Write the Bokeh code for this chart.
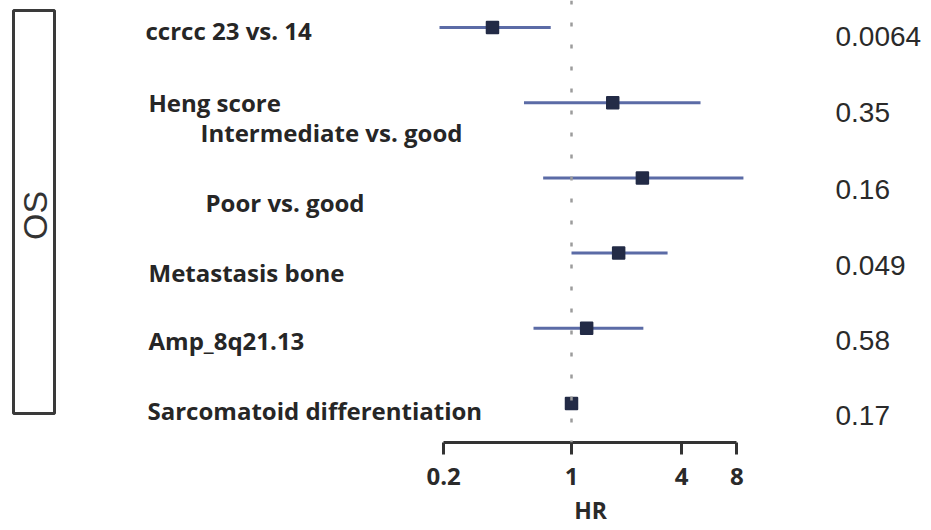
import math

from bokeh.core.properties import value
from bokeh.embed import file_html
from bokeh.models import FixedTicker, Range1d, Span, Title
from bokeh.plotting import figure
from bokeh.resources import INLINE

# ---- data -------------------------------------------------------------
row_labels = [
    "ccrcc 23 vs. 14",
    "Intermediate vs. good",
    "Poor vs. good",
    "Metastasis bone",
    "Amp_8q21.13",
    "Sarcomatoid differentiation",
]
group_header = "Heng score"
hazard_ratio = [0.37, 1.68, 2.44, 1.81, 1.21, 1.00]
ci_low = [0.19, 0.55, 0.70, 1.00, 0.62, 0.99]
ci_high = [0.77, 5.07, 8.70, 3.35, 2.47, 1.02]
p_values = ["0.0064", "0.35", "0.16", "0.049", "0.58", "0.17"]
tick_values = [0.2, 1, 4, 8]
tick_labels = ["0.2", "1", "4", "8"]
panel_title = "OS"
axis_title = "HR"

# ---- layout constants (screen pixels) ---------------------------------
W, H = 931, 530
AXIS_PANEL = 88                 # space under the frame for the HR axis
FRAME_H = H - AXIS_PANEL
X_ONE = 571                     # screen x of HR = 1
PX_DECADE = 183                 # pixels per factor of ten
Y_FIRST = 27                    # screen y of the first row
ROW_STEP = 75.2                 # pixels between rows
HR_TEXT_W = 32                  # approximate width of the axis caption


def x_at(px):
    """Data x (HR) for a screen column."""
    return 10 ** ((px - X_ONE) / PX_DECADE)


def px_of(hr):
    """Screen column for a data x (HR)."""
    return X_ONE + PX_DECADE * math.log10(hr)


def y_at(px):
    """Row coordinate for a screen y (rows grow downward)."""
    return (px - Y_FIRST) / ROW_STEP


rows = list(range(len(row_labels)))

p = figure(
    width=W, height=H,
    x_axis_type="log",
    x_range=Range1d(x_at(0), x_at(W)),
    y_range=Range1d(y_at(FRAME_H), y_at(0)),
    y_axis_location=None,
    toolbar_location=None,
    output_backend="svg",
    min_border_left=0, min_border_right=0, min_border_top=0,
    min_border_bottom=AXIS_PANEL,
)
p.outline_line_color = None
p.xgrid.visible = False
p.ygrid.visible = False
p.background_fill_color = "white"
p.border_fill_color = "white"

# dotted reference line at HR = 1
p.add_layout(Span(location=1, dimension="height", line_color="#9c9c9c",
                  line_width=2.5, line_dash="4 18"))

# confidence intervals and point estimates
p.segment(x0=ci_low, y0=rows, x1=ci_high, y1=rows,
          line_color="#5b6ba6", line_width=3)
p.scatter(x=hazard_ratio, y=rows, marker="square", size=12,
          fill_color="#232b46", line_color="#232b46", line_width=1.5)

# variable labels (main items left, Heng sub-levels indented)
label_x = [x_at(145), x_at(200), x_at(205), x_at(148), x_at(148), x_at(147)]
label_y = [y_at(30), y_at(132), y_at(202), y_at(272), y_at(340), y_at(410)]
label_style = dict(text_font=value("Open Sans"), text_font_style="bold",
                   text_font_size="24px", text_color="#262626",
                   text_align="left", text_baseline="middle")
p.text(x=label_x, y=label_y, text=row_labels, **label_style)
p.text(x=[x_at(148)], y=[y_at(102)], text=[group_header], **label_style)

# p-values column
pv_y = [y_at(36), y_at(112), y_at(189), y_at(265), y_at(340), y_at(415)]
p.text(x=[x_at(835)] * len(p_values), y=pv_y, text=p_values,
       text_font=value("Liberation Sans"), text_font_size="28px",
       text_color="#2a2a2a", text_align="left", text_baseline="middle")

# framed panel title on the left
p.quad(left=[x_at(13)], right=[x_at(54)], top=[y_at(10)], bottom=[y_at(413)],
       fill_color=None, line_color="#3a3a3a", line_width=3)
p.text(x=[x_at(34)], y=[y_at(215)], text=[panel_title], angle=math.pi / 2,
       text_font=value("Liberation Sans"), text_font_size="34px",
       text_color="#333333", text_align="center", text_baseline="middle")

# HR axis
ax = p.xaxis[0]
ax.ticker = FixedTicker(ticks=tick_values)
ax.major_label_overrides = {float(v): t for v, t in zip(tick_values, tick_labels)}
ax.bounds = (tick_values[0], tick_values[-1])
ax.axis_line_color = "#333333"
ax.axis_line_width = 3
ax.major_tick_line_color = "#333333"
ax.major_tick_line_width = 3
ax.major_tick_out = 12
ax.major_tick_in = 0
ax.minor_tick_line_color = None
ax.major_label_standoff = 13
ax.major_label_text_font = "Open Sans"
ax.major_label_text_font_style = "bold"
ax.major_label_text_font_size = "24px"
ax.major_label_text_color = "#2a2a2a"

# axis caption centred under the drawn span of the axis (0.2 .. 8)
axis_mid = (px_of(tick_values[0]) + px_of(tick_values[-1])) / 2
p.add_layout(Title(
    text=axis_title, align="left", offset=axis_mid - HR_TEXT_W / 2, standoff=8,
    text_font="Open Sans", text_font_style="bold", text_font_size="23px",
    text_color="#2a2a2a",
), "below")

open("out.html", "w").write(file_html(p, INLINE))
